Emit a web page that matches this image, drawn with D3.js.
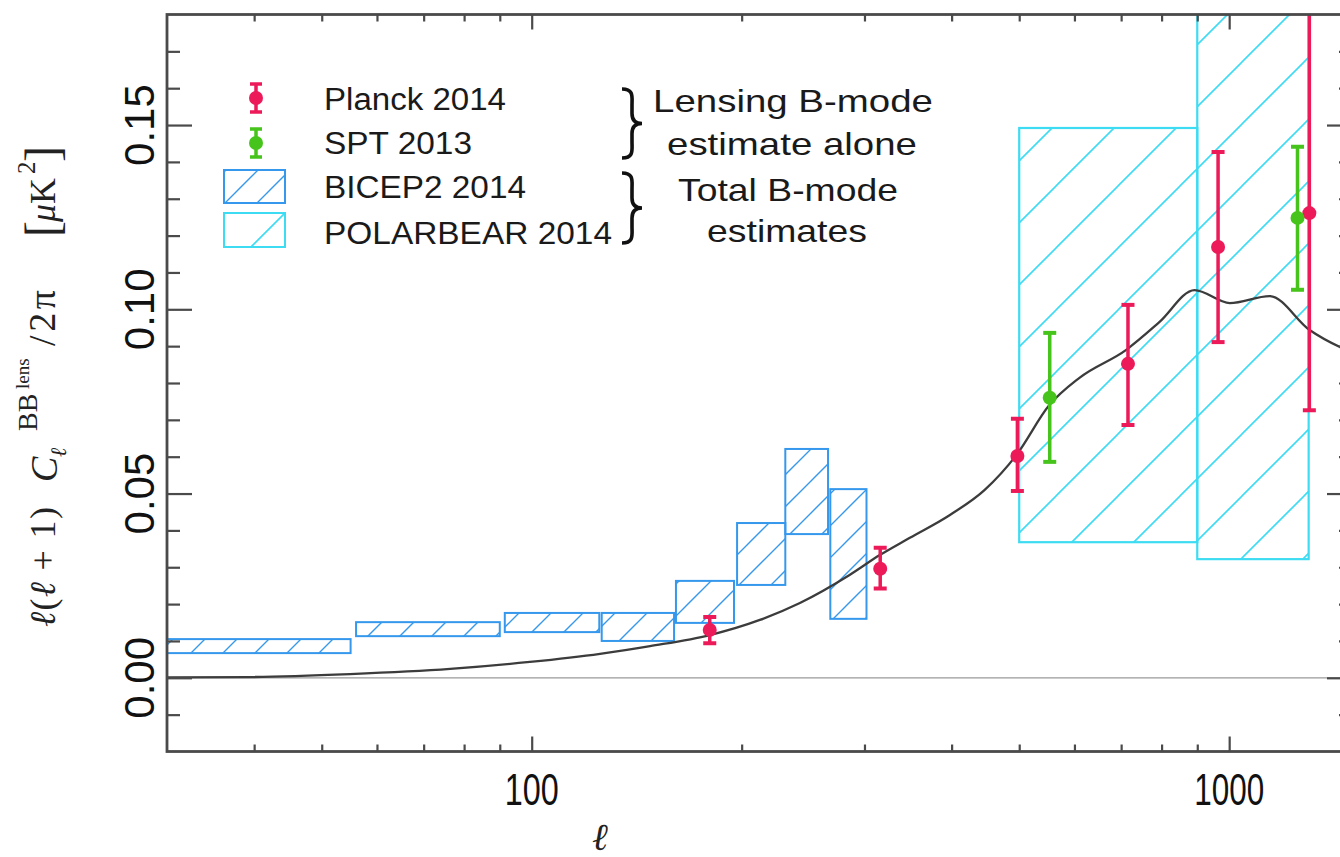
<!DOCTYPE html>
<html>
<head>
<meta charset="utf-8">
<script src="https://cdn.jsdelivr.net/npm/d3@7"></script>
<style>
  html, body { margin: 0; padding: 0; background: #fff; overflow: hidden; }
  svg { display: block; }
</style>
</head>
<body>
<svg id="chart" width="1340" height="857"></svg>
<script>
// ---- Lensing B-mode theory spectrum, l(l+1)C_l/2pi in uK^2 ----
const theoryEll = [30, 39.5, 54.9, 76.4, 99.4, 125.3, 147.8, 180.1, 212.4, 242.4, 285.6, 315.5, 348.5, 397.8, 446.2, 495.6, 552.3, 610, 711.8, 794, 892, 1002, 1143, 1304, 1441, 1500];
const theoryDl  = [0.0001, 0.0002, 0.0010, 0.0024, 0.0043, 0.0065, 0.0086, 0.0116, 0.0157, 0.0203, 0.0279, 0.0333, 0.0380, 0.0442, 0.0510, 0.0605, 0.0740, 0.0814, 0.0890, 0.0965, 0.1052, 0.1017, 0.1036, 0.0944, 0.0898, 0.0884];

// ---- Planck 2014 lensing B-mode band powers ----
const planckEll = [180, 316, 497, 716, 964, 1303];
const planckDl  = [0.0130, 0.0296, 0.0602, 0.0852, 0.1169, 0.1261];
const planckLo  = [0.0094, 0.0242, 0.0507, 0.0686, 0.0911, 0.0726];
const planckHi  = [0.0165, 0.0353, 0.0703, 0.1012, 0.1427, 0.2000];

// ---- SPT 2013 lensing B-mode band powers ----
const sptEll = [553, 1253];
const sptDl  = [0.0760, 0.1248];
const sptLo  = [0.0586, 0.1053];
const sptHi  = [0.0936, 0.1441];

// ---- BICEP2 2014 total B-mode bins (l range, 1-sigma band) ----
const bicepEllMin = [20, 56, 91.5, 126, 161, 197, 231, 268];
const bicepEllMax = [55, 90, 125, 160, 195, 231, 266, 302];
const bicepLo     = [0.0067, 0.0113, 0.0124, 0.0100, 0.0149, 0.0252, 0.0390, 0.0160];
const bicepHi     = [0.0105, 0.0151, 0.0176, 0.0176, 0.0263, 0.0420, 0.0621, 0.0512];

// ---- POLARBEAR 2014 total B-mode bins ----
const polarEllMin = [500, 900];
const polarEllMax = [900, 1300];
const polarLo     = [0.0368, 0.0322];
const polarHi     = [0.1492, 0.2670];

// ---- axis ticks ----
const xMajorTicks = [100, 1000];
const xMinorTicks = [40, 50, 60, 70, 80, 90, 200, 300, 400, 500, 600, 700, 800, 900];
const xTickLabels = ["100", "1000"];
const yMajorTicks = [0.00, 0.05, 0.10, 0.15];
const yMinorTicks = [-0.01, 0.01, 0.02, 0.03, 0.04, 0.06, 0.07, 0.08, 0.09, 0.11, 0.12, 0.13, 0.14, 0.16, 0.17];
const yTickLabels = ["0.00", "0.05", "0.10", "0.15"];

// ---- legend ----
const legendLabels = ["Planck 2014", "SPT 2013", "BICEP2 2014", "POLARBEAR 2014"];
const braceLabels  = [["Lensing B-mode", "estimate alone"], ["Total B-mode", "estimates"]];

const COL = {
  planck: "#ec1a58",
  spt: "#47c41b",
  bicep: "#3598ec",
  polar: "#3ddcf2",
  theory: "#3c3c3c",
  axis: "#4a4a4a"
};

const svg = d3.select("#chart");
const L = 167, R = 1352, T = 14.5, B = 751.5;

const x = d3.scaleLog().domain([30, 1500]).range([L, R]);
const y = d3.scaleLinear().domain([-0.02, 0.18]).range([B, T]);

const defs = svg.append("defs");
defs.append("clipPath").attr("id", "plotClip")
  .append("rect").attr("x", L).attr("y", T).attr("width", R - L).attr("height", B - T);

function hatch(id, period, offset, color, width) {
  const p = defs.append("pattern").attr("id", id)
    .attr("patternUnits", "userSpaceOnUse")
    .attr("x", offset).attr("y", 0)
    .attr("width", period).attr("height", period);
  p.append("path")
    .attr("d", `M0,${period} L${period},0 M${-period/2},${period/2} L${period/2},${-period/2} M${period/2},${period*1.5} L${period*1.5},${period/2}`)
    .attr("stroke", color).attr("stroke-width", width).attr("fill", "none");
}
hatch("hatchBicep", 32, 12, COL.bicep, 1.4);
hatch("hatchPolar", 62, 2, COL.polar, 1.6);

const plot = svg.append("g").attr("clip-path", "url(#plotClip)");

// zero reference line
plot.append("line")
  .attr("x1", L).attr("x2", R).attr("y1", y(0)).attr("y2", y(0))
  .attr("stroke", "#9a9a9a").attr("stroke-width", 1.3);

// BICEP2 boxes
plot.selectAll("rect.bicep").data(bicepEllMin).join("rect")
  .attr("class", "bicep")
  .attr("x", (d, i) => x(bicepEllMin[i]))
  .attr("width", (d, i) => x(bicepEllMax[i]) - x(bicepEllMin[i]))
  .attr("y", (d, i) => y(bicepHi[i]))
  .attr("height", (d, i) => y(bicepLo[i]) - y(bicepHi[i]))
  .attr("fill", "url(#hatchBicep)")
  .attr("stroke", COL.bicep).attr("stroke-width", 2);

// POLARBEAR boxes
plot.selectAll("rect.polar").data(polarEllMin).join("rect")
  .attr("class", "polar")
  .attr("x", (d, i) => x(polarEllMin[i]))
  .attr("width", (d, i) => x(polarEllMax[i]) - x(polarEllMin[i]))
  .attr("y", (d, i) => y(polarHi[i]))
  .attr("height", (d, i) => y(polarLo[i]) - y(polarHi[i]))
  .attr("fill", "url(#hatchPolar)")
  .attr("stroke", COL.polar).attr("stroke-width", 2.2);

// theory curve
const line = d3.line()
  .x(d => x(d[0])).y(d => y(d[1]))
  .curve(d3.curveMonotoneX);
plot.append("path")
  .datum(theoryEll.map((l, i) => [l, theoryDl[i]]))
  .attr("d", line)
  .attr("fill", "none").attr("stroke", COL.theory).attr("stroke-width", 2.3);

// error-bar points
function errorPoints(cls, ell, val, lo, hi, color) {
  const g = plot.append("g").attr("class", cls);
  const pts = ell.map((l, i) => ({ l, v: val[i], lo: lo[i], hi: hi[i] }));
  g.selectAll("line.bar").data(pts).join("line").attr("class", "bar")
    .attr("x1", d => x(d.l)).attr("x2", d => x(d.l))
    .attr("y1", d => y(d.lo)).attr("y2", d => y(d.hi))
    .attr("stroke", color).attr("stroke-width", 3.5);
  ["lo", "hi"].forEach(k => {
    g.selectAll("line.cap" + k).data(pts).join("line").attr("class", "cap" + k)
      .attr("x1", d => x(d.l) - 6.5).attr("x2", d => x(d.l) + 6.5)
      .attr("y1", d => y(d[k])).attr("y2", d => y(d[k]))
      .attr("stroke", color).attr("stroke-width", 4);
  });
  g.selectAll("circle").data(pts).join("circle")
    .attr("cx", d => x(d.l)).attr("cy", d => y(d.v)).attr("r", 7)
    .attr("fill", color);
}
errorPoints("planck", planckEll, planckDl, planckLo, planckHi, COL.planck);
errorPoints("spt", sptEll, sptDl, sptLo, sptHi, COL.spt);

// ---- frame and ticks ----
const axes = svg.append("g");
axes.append("rect")
  .attr("x", L).attr("y", T).attr("width", R - L).attr("height", B - T)
  .attr("fill", "none").attr("stroke", COL.axis).attr("stroke-width", 2.8);

function tickAxis(axisFn, scale, values, size, transform) {
  const a = axisFn(scale).tickValues(values).tickSize(size).tickFormat("");
  const g = axes.append("g").attr("transform", transform).call(a);
  g.select(".domain").remove();
  g.selectAll(".tick line").attr("stroke", COL.axis).attr("stroke-width", 2.2);
}
tickAxis(d3.axisLeft, y, yMajorTicks, -25, `translate(${L},0)`);
tickAxis(d3.axisLeft, y, yMinorTicks, -13, `translate(${L},0)`);
tickAxis(d3.axisRight, y, yMajorTicks, -25, `translate(${R},0)`);
tickAxis(d3.axisRight, y, yMinorTicks, -13, `translate(${R},0)`);
tickAxis(d3.axisBottom, x, xMajorTicks, -15, `translate(0,${B})`);
tickAxis(d3.axisBottom, x, xMinorTicks, -7, `translate(0,${B})`);
tickAxis(d3.axisTop, x, xMajorTicks, -15, `translate(0,${T})`);
tickAxis(d3.axisTop, x, xMinorTicks, -7, `translate(0,${T})`);

// y tick labels (rotated)
const yLab = svg.append("g").attr("transform", "rotate(-90)");
yLab.selectAll("text").data(yMajorTicks).join("text")
  .attr("x", d => -y(d)).attr("y", 154)
  .attr("text-anchor", "middle")
  .attr("font-family", "'Liberation Sans', Arial, sans-serif")
  .attr("font-size", 42).attr("fill", "#111")
  .text((d, i) => yTickLabels[i]);

// x tick labels (tall, narrow digits), centred under the major ticks
const xLabelWidth = [54, 70];
svg.append("g").selectAll("text").data(xMajorTicks).join("text")
  .attr("x", (d, i) => x(d) - xLabelWidth[i] / 2)
  .attr("y", 805)
  .attr("textLength", (d, i) => xLabelWidth[i])
  .attr("lengthAdjust", "spacingAndGlyphs")
  .attr("font-family", "'Liberation Sans', Arial, sans-serif")
  .attr("font-size", 44).attr("fill", "#111")
  .text((d, i) => xTickLabels[i]);

// x axis title
svg.append("text")
  .attr("x", 600).attr("y", 850).attr("text-anchor", "middle")
  .attr("font-family", "'Liberation Serif', 'DejaVu Serif', serif")
  .attr("font-style", "italic").attr("font-size", 38).attr("fill", "#222")
  .text("\u2113");

// y axis title: l(l+1) C_l^{BB^lens}/2pi  [uK^2]
const yt = svg.append("g").attr("transform", "rotate(-90)")
  .attr("font-family", "'Liberation Serif', 'DejaVu Serif', serif").attr("fill", "#222");
function mathText(tx, ty, size, parts, len) {
  const t = yt.append("text").attr("x", tx).attr("y", ty).attr("font-size", size);
  if (len) t.attr("textLength", len).attr("lengthAdjust", "spacing");
  parts.forEach(p => {
    t.append("tspan").attr("font-style", p[1] ? "italic" : "normal").text(p[0]);
  });
  return t;
}
mathText(-627, 55, 36, [["\u2113", 1], ["(", 0], ["\u2113", 1], [" + 1)", 0]], 120);
mathText(-482, 57, 38, [["C", 1]]);
mathText(-457, 66, 22, [["\u2113", 1]]);
mathText(-431, 37, 28, [["BB", 0]]);
mathText(-389, 29, 19, [["lens", 0]]);
mathText(-346, 55, 38, [["/2\u03c0", 0]], 56);
mathText(-237, 58, 48, [["[", 0]]);
mathText(-222, 55, 36, [["\u03bc", 1], ["K", 0]]);
mathText(-174, 35, 25, [["2", 0]]);
mathText(-162, 58, 48, [["]", 0]]);

// ---- legend ----
const lg = svg.append("g");
const legendMarkers = [
  { type: "pt", color: COL.planck, cy: 98, lo: 84, hi: 112 },
  { type: "pt", color: COL.spt, cy: 143, lo: 129, hi: 157 },
  { type: "box", color: COL.bicep, fill: "url(#hatchBicep)", y0: 170, y1: 203 },
  { type: "box", color: COL.polar, fill: "url(#hatchPolar)", y0: 213, y1: 247 }
];
legendMarkers.forEach(m => {
  if (m.type === "pt") {
    lg.append("line").attr("x1", 256).attr("x2", 256).attr("y1", m.lo).attr("y2", m.hi)
      .attr("stroke", m.color).attr("stroke-width", 3.5);
    [m.lo, m.hi].forEach(v => lg.append("line").attr("x1", 250).attr("x2", 262)
      .attr("y1", v).attr("y2", v).attr("stroke", m.color).attr("stroke-width", 3.5));
    lg.append("circle").attr("cx", 256).attr("cy", m.cy).attr("r", 7).attr("fill", m.color);
  } else {
    lg.append("rect").attr("x", 224).attr("y", m.y0).attr("width", 61).attr("height", m.y1 - m.y0)
      .attr("fill", m.fill).attr("stroke", m.color).attr("stroke-width", 2);
  }
});
const legendBase = [110, 154, 198, 244];
const legendWidth = [182, 148, 202, 288];
lg.selectAll("text.leg").data(legendLabels).join("text").attr("class", "leg")
  .attr("x", 324).attr("y", (d, i) => legendBase[i])
  .attr("textLength", (d, i) => legendWidth[i]).attr("lengthAdjust", "spacingAndGlyphs")
  .attr("font-family", "'Liberation Sans', Arial, sans-serif")
  .attr("font-size", 31).attr("fill", "#1a1a1a")
  .text(d => d);

// braces
function brace(x0, y0, y1, tip) {
  const m = (y0 + y1) / 2;
  const xm = x0 + 10;
  return `M${x0},${y0} C${xm + 2},${y0} ${xm},${y0 + 8} ${xm},${y0 + 16} L${xm},${m - 10}
          C${xm},${m - 3} ${xm + 4},${m} ${tip},${m}
          C${xm + 4},${m} ${xm},${m + 3} ${xm},${m + 10} L${xm},${y1 - 16}
          C${xm},${y1 - 8} ${xm + 2},${y1} ${x0},${y1}`;
}
lg.append("path").attr("d", brace(622, 89, 158, 642))
  .attr("fill", "none").attr("stroke", "#111").attr("stroke-width", 3.6);
lg.append("path").attr("d", brace(622, 173, 243, 642))
  .attr("fill", "none").attr("stroke", "#111").attr("stroke-width", 3.6);

const braceText = [
  { t: braceLabels[0][0], cx: 793, y: 112, w: 280 },
  { t: braceLabels[0][1], cx: 792, y: 155, w: 250 },
  { t: braceLabels[1][0], cx: 788, y: 201, w: 220 },
  { t: braceLabels[1][1], cx: 787, y: 242, w: 160 }
];
lg.selectAll("text.brace").data(braceText).join("text").attr("class", "brace")
  .attr("x", d => d.cx - d.w / 2).attr("y", d => d.y)
  .attr("textLength", d => d.w).attr("lengthAdjust", "spacingAndGlyphs")
  .attr("font-family", "'Liberation Sans', Arial, sans-serif")
  .attr("font-size", 32).attr("fill", "#1a1a1a")
  .text(d => d.t);
</script>
</body>
</html>
